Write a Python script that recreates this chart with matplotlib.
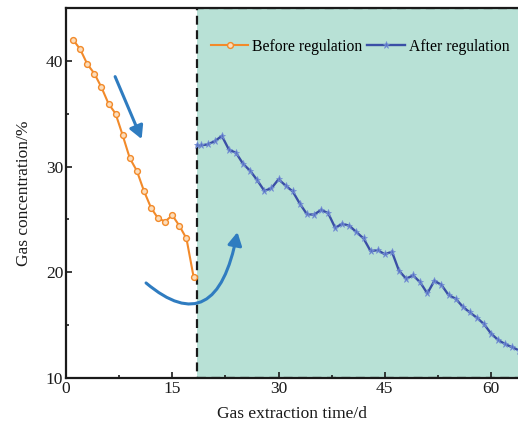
import matplotlib
matplotlib.use("Agg")
import matplotlib.pyplot as plt
from matplotlib.patches import Rectangle, FancyArrowPatch
from matplotlib.path import Path
from matplotlib.ticker import MultipleLocator

plt.rcParams['font.family'] = ['Liberation Serif', 'DejaVu Serif']

# Gas concentration before regulation (days 1-18)
days_before = [1, 2, 3, 4, 5, 6, 7, 8, 9, 10, 11, 12, 13, 14, 15, 16, 17, 18]
conc_before = [42.0, 41.1, 39.7, 38.8, 37.5, 35.95, 35.0, 32.96, 30.8, 29.6,
               27.7, 26.1, 25.1, 24.8, 25.4, 24.4, 23.2, 19.6]

# Gas concentration after regulation
days_after = [18.5, 19, 20, 21, 22, 23, 24, 25, 26, 27, 28, 29, 30, 31, 32, 33,
              34, 35, 36, 37, 38, 39, 40, 41, 42, 43, 44, 45, 46, 47, 48, 49,
              50, 51, 52, 53, 54, 55, 56, 57, 58, 59, 60, 61, 62, 63, 64]
conc_after = [32.0, 32.0, 32.1, 32.4, 32.9, 31.6, 31.3, 30.25, 29.6, 28.7, 27.7,
              27.95, 28.8, 28.2, 27.65, 26.5, 25.5, 25.45, 25.9, 25.6, 24.2,
              24.6, 24.4, 23.8, 23.2, 22.0, 22.1, 21.7, 21.95, 20.15, 19.4,
              19.7, 19.05, 18.0, 19.2, 18.8, 17.85, 17.5, 16.75, 16.2, 15.7,
              15.1, 14.2, 13.6, 13.2, 12.9, 12.6]

regulation_day = 18.5
x_ticks = [0, 15, 30, 45, 60]
y_ticks = [10, 20, 30, 40]

fig = plt.figure(figsize=(5.18, 4.28), dpi=100)
ax = fig.add_axes([66 / 518, 50 / 428, 452 / 518, 370 / 428])
ax.set_xlim(0, 63.8)
ax.set_ylim(10, 45)

# Shaded regulation period with dashed border
ax.add_patch(Rectangle((regulation_day, 10), 60, 35, facecolor='#B8E1D6',
                       edgecolor='#1a1a1a', linestyle=(0, (4, 2.5)),
                       linewidth=1.6, zorder=1))

orange = '#F28A2A'
blue = '#3A4FA6'
ax.plot(days_before, conc_before, color=orange, lw=1.5, marker='o', ms=4.2,
        mfc='#FCDDBB', mec=orange, mew=1.0, zorder=3, label='Before regulation')
ax.plot(days_after, conc_after, color=blue, lw=1.7, marker='*', ms=5.2,
        mfc='#5671C4', mec='#7590D4', mew=0.5, zorder=3, label='After regulation')

# Trend arrows
arrow_c = '#2F7CC0'
ax.add_patch(FancyArrowPatch((6.78, 38.75), (10.83, 32.36),
                             arrowstyle='-|>,head_length=0.55,head_width=0.3',
                             mutation_scale=14, color=arrow_c, lw=2.2, zorder=4))
curve = Path([(11.3, 18.99), (21.2, 13.4), (24.2, 23.8)],
             [Path.MOVETO, Path.CURVE3, Path.CURVE3])
ax.add_patch(FancyArrowPatch(path=curve,
                             arrowstyle='-|>,head_length=0.55,head_width=0.3',
                             mutation_scale=14, color=arrow_c, lw=2.2, zorder=4))

ax.xaxis.set_minor_locator(MultipleLocator(7.5))
ax.yaxis.set_minor_locator(MultipleLocator(5))
ax.set_xticks(x_ticks)
ax.set_yticks(y_ticks)
ax.tick_params(which='both', direction='in', labelsize=12.5, width=1.2,
               top=False, right=False, colors='#1a1a1a')
ax.tick_params(which='major', length=4)
ax.tick_params(which='minor', length=2.5)
ax.tick_params(axis='x', pad=2)
ax.tick_params(axis='y', pad=2)

for side in ['left', 'bottom', 'top']:
    ax.spines[side].set_linewidth(1.6)
    ax.spines[side].set_color('#1a1a1a')
    ax.spines[side].set_zorder(2)
ax.spines['right'].set_visible(False)

ax.set_xlabel('Gas extraction time/d', fontsize=12.5, labelpad=7, color='#1a1a1a')
ax.set_ylabel('Gas concentration/%', fontsize=12.5, labelpad=10, color='#1a1a1a')

leg = ax.legend(loc='center right', bbox_to_anchor=(0.995, 0.895), ncol=2,
                frameon=False, fontsize=11.3, handlelength=2.4,
                handletextpad=0.25, columnspacing=0.3, borderaxespad=0.0)

fig.savefig('out.png', dpi=100)
